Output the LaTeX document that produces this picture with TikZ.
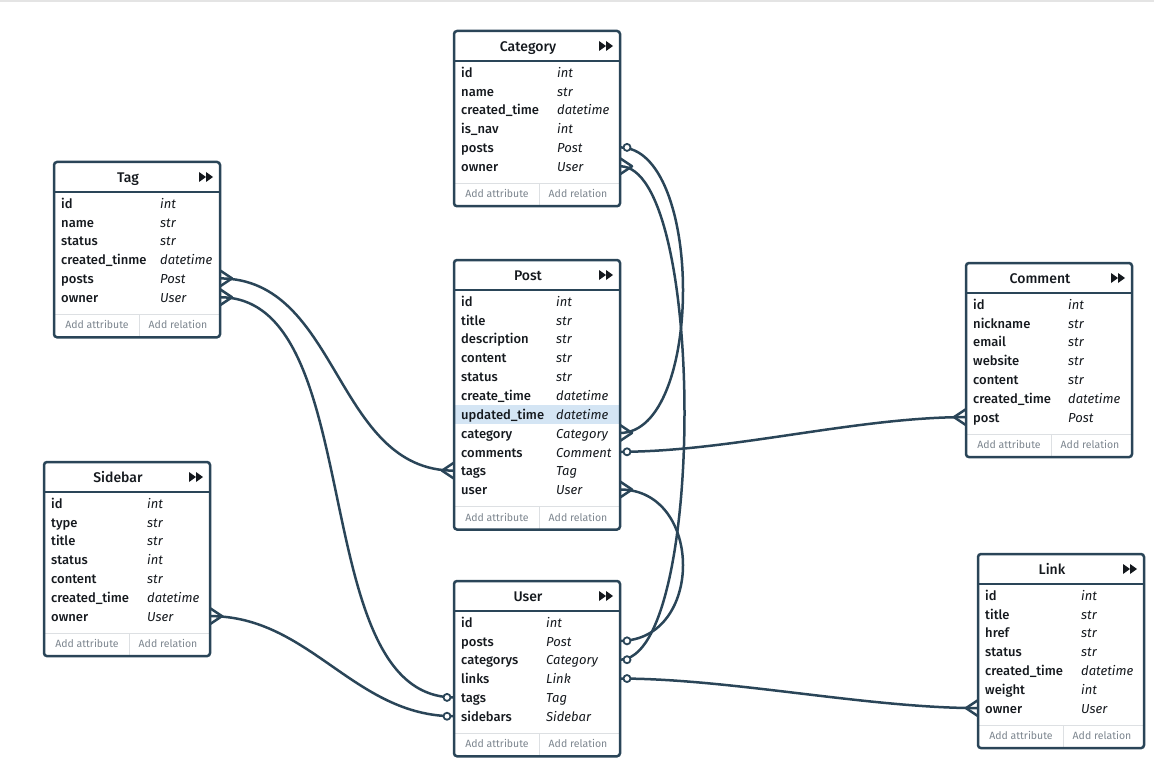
\documentclass[tikz,border=0pt]{standalone}
\usepackage{fontspec}
\setmainfont{Fira Sans}[BoldFont={Fira Sans Medium}]
\usepackage{xcolor}
\usepackage{tikz}
\usetikzlibrary{arrows.meta,positioning,calc,backgrounds}
\definecolor{ink}{HTML}{15191E}
\definecolor{slate}{HTML}{2A4558}
\definecolor{fog}{HTML}{DDE0E3}
\definecolor{pale}{HTML}{7D868F}
\definecolor{hilite}{HTML}{D4E5F4}
\definecolor{topline}{HTML}{E4E4E4}

\tikzset{
  boxline/.style={draw=slate, line width=2.5pt},
  rel/.style={draw=slate, line width=2.5pt},
  fogline/.style={draw=fog, line width=1pt},
  row/.style={anchor=west, minimum width=166pt, minimum height=18.85pt, inner sep=0pt, outer sep=0pt},
  fieldname/.style={anchor=west, inner sep=0pt, text height=12.5pt, text depth=2pt, text=ink, font=\fontsize{13}{15}\selectfont\bfseries},
  fieldtype/.style={anchor=west, inner sep=0pt, text height=12.5pt, text depth=2pt, text=ink, font=\fontsize{13}{15}\selectfont\itshape},
  headtext/.style={inner sep=0pt, text height=13pt, text depth=2pt, text=ink, font=\fontsize{14}{16}\selectfont\bfseries},
  addlink/.style={inner sep=0pt, text=pale, font=\fontsize{10.5}{12}\selectfont},
  crow/.pic={\draw[rel, line join=round] (0,-8) -- (12,0) -- (0,8);},
  ring/.pic={\draw[rel, line width=1.8pt, fill=white] (7,0) circle[radius=3.5];},
  post row 7/.style={fill=hilite},
}

% key, title, left, top, number of rows, type column, rows
\newcommand{\erbox}[7]{%
  \pgfmathsetmacro\erlast{#4+41+(#5-1)*18.85}
  \fill[white] (#3,#4) rectangle (#3+166,\erlast+40);
  \foreach \n/\t [count=\i] in {#7} {
    \node[row, #1 row \i/.try] (#1-\i) at (#3,{#4+41+(\i-1)*18.85}) {};
    \node[fieldname] (#1-\i-name) at ([xshift=7pt]#1-\i.west) {\n};
    \node[fieldtype] (#1-\i-type) at ([xshift=#6pt]#1-\i.west) {\t};
  }
  \node[headtext] (#1-title) at (#3+74,#4+15) {#2};
  \fill[ink] (#3+145,#4+10) -- (#3+152,#4+15) -- (#3+145,#4+20) -- cycle
             (#3+152,#4+10) -- (#3+159,#4+15) -- (#3+152,#4+20) -- cycle;
  \draw[fogline] (#3,\erlast+17) -- (#3+166,\erlast+17) (#3+85,\erlast+17) -- (#3+85,\erlast+40);
  \node[addlink] (#1-addattr) at (#3+43,\erlast+27.5) {Add attribute};
  \node[addlink] (#1-addrel) at (#3+124,\erlast+27.5) {Add relation};
  \draw[boxline, rounded corners=3] (#3,#4) rectangle (#3+166,\erlast+40);
  \draw[boxline] (#3,#4+30) -- (#3+166,#4+30);
}

\begin{document}
\begin{tikzpicture}[x=1pt, y=-1pt]
\useasboundingbox (0,0) rectangle (1154,770);
\draw[topline, line width=2pt] (0,1) -- (1154,1);

\erbox{category}{Category}{454}{31}{6}{103}{id/int, name/str, created\_time/datetime, is\_nav/int, posts/Post, owner/User}
\erbox{tag}{Tag}{54}{162}{6}{106}{id/int, name/str, status/str, created\_tinme/datetime, posts/Post, owner/User}
\erbox{post}{Post}{454}{260}{11}{102}{id/int, title/str, description/str, content/str, status/str, create\_time/datetime, updated\_time/datetime, category/Category, comments/Comment, tags/Tag, user/User}
\erbox{comment}{Comment}{966}{263}{7}{102}{id/int, nickname/str, email/str, website/str, content/str, created\_time/datetime, post/Post}
\erbox{sidebar}{Sidebar}{44}{462}{7}{103}{id/int, type/str, title/str, status/int, content/str, created\_time/datetime, owner/User}
\erbox{user}{User}{454}{581}{6}{92}{id/int, posts/Post, categorys/Category, links/Link, tags/Tag, sidebars/Sidebar}
\erbox{link}{Link}{978}{554}{7}{103}{id/int, title/str, href/str, status/str, created\_time/datetime, weight/int, owner/User}

% relations
\begin{scope}[on background layer]
\draw[rel] (category-5.east) to[out=0, in=0, distance=84pt] (post-8.east);
\draw[rel] (category-6.east) to[out=0, in=0, distance=86pt] (user-3.east);
\draw[rel] (post-11.east) to[out=0, in=0, distance=84pt] (user-2.east);
\draw[rel] (post-9.east) to[out=0, in=180, distance=110pt] (comment-7.west);
\draw[rel] (user-4.east) to[out=0, in=180, distance=110pt] (link-7.west);
\draw[rel] (tag-5.east) to[out=0, in=180, distance=120pt] (post-10.west);
\draw[rel] (tag-6.east) to[out=0, in=180, distance=150pt] (user-5.west);
\draw[rel] (sidebar-7.east) to[out=0, in=180, distance=100pt] (user-6.west);
\end{scope}

\pic at (category-5.east) {ring};
\pic at (post-8.east) {crow};
\pic at (category-6.east) {crow};
\pic at (user-3.east) {ring};
\pic at (post-11.east) {crow};
\pic at (user-2.east) {ring};
\pic at (post-9.east) {ring};
\pic[xscale=-1] at (comment-7.west) {crow};
\pic at (user-4.east) {ring};
\pic[xscale=-1] at (link-7.west) {crow};
\pic at (tag-5.east) {crow};
\pic[xscale=-1] at (post-10.west) {crow};
\pic at (tag-6.east) {crow};
\pic[xscale=-1] at (user-5.west) {ring};
\pic at (sidebar-7.east) {crow};
\pic[xscale=-1] at (user-6.west) {ring};
\end{tikzpicture}
\end{document}
